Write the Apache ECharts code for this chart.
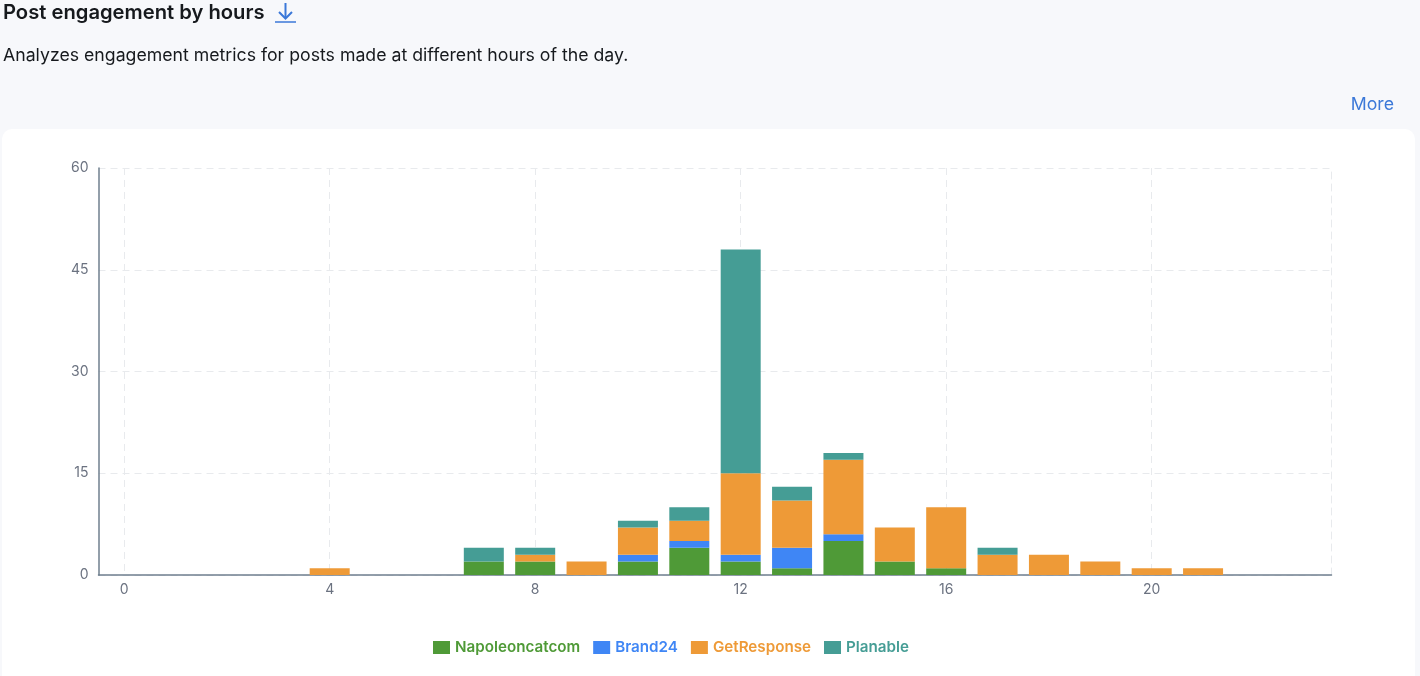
<!DOCTYPE html>
<html><head><meta charset="utf-8">
<style>html,body{margin:0;padding:0;background:#f7f8fb;overflow:hidden}#c{width:1420px;height:676px}</style>
<script src="https://cdn.jsdelivr.net/npm/echarts@6/dist/echarts.min.js"></script>
</head><body><div id="c"></div>
<script>
const hours = Array.from({length:24},(_, i)=>String(i));
const napoleon = [0,0,0,0,0,0,0,2,2,0,2,4,2,1,5,2,1,0,0,0,0,0,0,0];
const brand24  = [0,0,0,0,0,0,0,0,0,0,1,1,1,3,1,0,0,0,0,0,0,0,0,0];
const getResp  = [0,0,0,0,1,0,0,0,1,2,4,3,12,7,11,5,9,3,3,2,1,1,0,0];
const planable = [0,0,0,0,0,0,0,2,1,0,1,2,33,2,1,0,0,1,0,0,0,0,0,0];
const seriesNames = ['Napoleoncatcom','Brand24','GetResponse','Planable'];
const seriesColors = ['#4f9a37','#3f86f5','#ee9a37','#459d95'];
const seriesValues = [napoleon,brand24,getResp,planable];
const font = 'Inter';
const grid = '#e8eaed';
const chart = echarts.init(document.getElementById('c'),null,{renderer:'canvas'});
chart.setOption({
  backgroundColor:'#f7f8fb',
  animation:false,
  textStyle:{fontFamily:font},
  graphic:[
    {type:'rect',z:-10,silent:true,shape:{x:2,y:129,width:1413,height:570,r:10},style:{fill:'#ffffff'}},
    {type:'group',silent:true,children:[
      {type:'polyline',shape:{points:[[285.5,3],[285.5,18]]},style:{stroke:'#3b78d8',lineWidth:2,fill:null}},
      {type:'polyline',shape:{points:[[279,12],[285.5,18.5],[292,12]]},style:{stroke:'#3b78d8',lineWidth:2,fill:null}},
      {type:'line',shape:{x1:275,y1:22,x2:296,y2:22},style:{stroke:'#3b78d8',lineWidth:1.5}}
    ]}
  ],
  title:[
    {text:'Post engagement by hours',left:3,top:3,padding:0,textStyle:{fontFamily:font,fontSize:20.2,fontWeight:600,color:'#16191d'}},
    {text:'Analyzes engagement metrics for posts made at different hours of the day.',left:3,top:47,padding:0,textStyle:{fontFamily:font,fontSize:17.7,fontWeight:400,color:'#16191d'}},
    {text:'More',right:26,top:96,padding:0,textStyle:{fontFamily:font,fontSize:17.7,fontWeight:400,color:'#3b78d8'}}
  ],
  legend:{
    bottom:16,left:428,icon:'rect',itemWidth:17,itemHeight:13,itemGap:13,
    selectedMode:false,
    data:seriesNames.map((n,i)=>({name:n,textStyle:{color:seriesColors[i],fontFamily:font,fontSize:15.2,fontWeight:600}}))
  },
  grid:{left:98.5,right:88.5,top:168,bottom:101},
  xAxis:{
    type:'category',data:hours,boundaryGap:true,
    axisLine:{show:true,lineStyle:{color:'#6f7f8e',width:1.5}},
    axisTick:{show:false,alignWithLabel:true,interval:3},
    axisLabel:{interval:3,color:'#6b7280',fontSize:14,margin:8,fontFamily:font},
    splitLine:{show:true,alignWithLabel:true,interval:3,lineStyle:{color:grid,type:[7,5],width:1}}
  },
  yAxis:[{
    type:'value',min:0,max:60,interval:15,
    axisLine:{show:true,lineStyle:{color:'#6f7f8e',width:1.5}},
    axisTick:{show:false},
    axisLabel:{color:'#6b7280',fontSize:14,margin:10,fontFamily:font},
    splitLine:{show:true,lineStyle:{color:grid,type:[7,5],width:1}}
  },{
    type:'value',min:0,max:60,interval:15,position:'right',
    axisLine:{show:true,lineStyle:{color:grid,type:[7,5],width:1}},
    axisTick:{show:false},axisLabel:{show:false},splitLine:{show:false}
  }],
  series:seriesValues.map((v,i)=>({
    name:seriesNames[i],type:'bar',stack:'total',barWidth:40,data:v,
    itemStyle:{color:seriesColors[i]}
  }))
});
</script></body></html>
